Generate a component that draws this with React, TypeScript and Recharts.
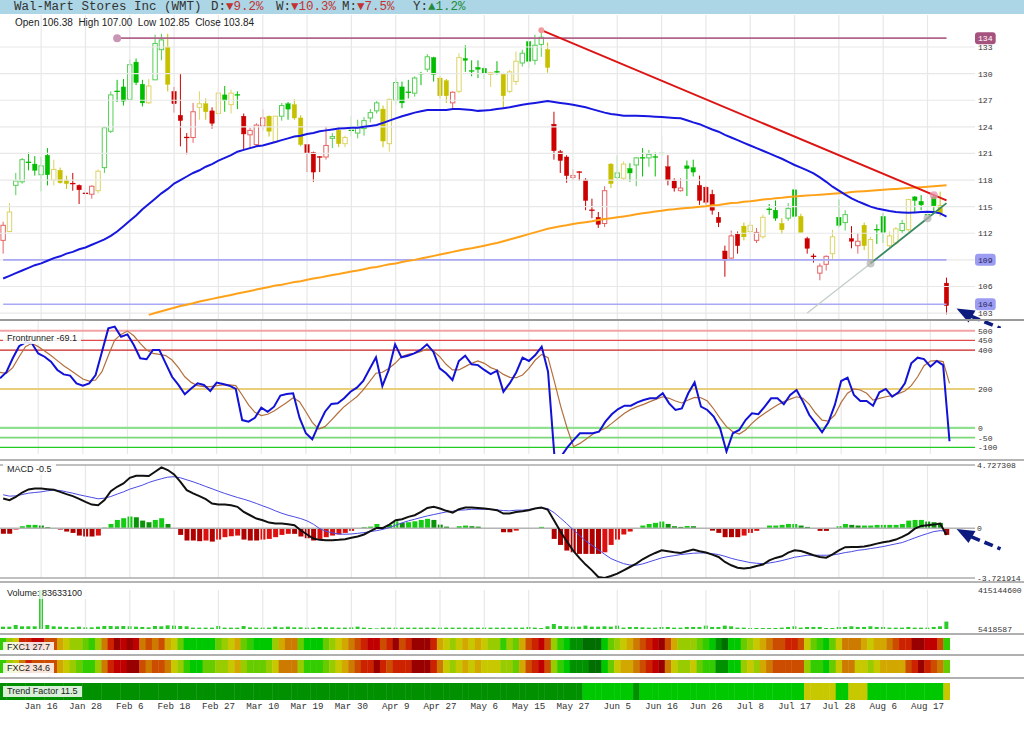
import React from 'react';
import {
  ComposedChart, Bar, Line, XAxis, YAxis, ReferenceLine, ReferenceDot, Cell
} from 'recharts';

// ---------- price bars ----------
const opens = [
  111.2, 112.2, 117.4, 117.8, 120.0, 119.8, 118.6, 120.8, 118.0, 119.1,
  118.0, 117.6, 117.4, 116.5, 116.4, 116.8, 119.4, 123.5, 127.9, 128.5,
  127.1, 131.3, 128.8, 126.7, 129.3, 132.7, 133.0, 128.0, 125.3, 122.8,
  122.8, 126.2, 126.6, 125.8, 125.5, 127.6, 126.5, 127.6, 125.2, 123.1,
  122.0, 124.1, 125.2, 122.3, 125.2, 126.6, 126.5, 125.0, 122.0, 121.1,
  120.6, 120.6, 122.7, 123.6, 122.1, 123.6, 123.3, 123.8, 125.0, 125.8,
  126.0, 122.1, 127.0, 128.5, 127.9, 127.8, 130.0, 130.5, 131.8, 129.5,
  129.2, 126.7, 128.0, 131.7, 130.3, 130.7, 130.6, 129.9, 130.2, 130.0,
  128.0, 129.1, 131.2, 133.6, 131.5, 133.3, 132.7, 124.3, 121.2, 120.6,
  118.3, 118.9, 118.0, 114.6, 113.8, 113.1, 119.8, 118.3, 118.2, 119.3,
  119.7, 120.5, 120.5, 120.6, 121.0, 119.5, 117.9, 116.8, 119.6, 119.4,
  117.4, 117.2, 116.4, 113.8, 110.0, 109.2, 111.9, 112.8, 112.2, 111.2,
  111.6, 114.7, 114.6, 113.1, 113.7, 116.9, 113.9, 111.4, 109.4, 107.5,
  108.5, 109.7, 113.8, 113.2, 111.4, 110.6, 112.9, 108.8, 112.4, 113.9,
  110.6, 110.9, 112.3, 112.4, 116.1, 115.6, 114.0, 116.1, 115.1, 106.38,
];
const highs = [
  113.3, 115.4, 118.8, 120.5, 121.1, 120.7, 120.6, 121.6, 120.3, 119.4,
  118.5, 118.8, 117.5, 117.3, 117.4, 119.2, 124.0, 128.0, 129.3, 129.4,
  131.6, 131.7, 129.3, 129.4, 134.4, 134.5, 134.5, 128.5, 130.0, 123.3,
  126.7, 128.0, 127.2, 126.2, 128.5, 128.6, 128.2, 128.0, 125.5, 123.9,
  124.4, 126.0, 125.3, 125.2, 126.7, 126.8, 127.1, 125.3, 122.0, 121.2,
  120.7, 124.0, 123.3, 124.0, 123.0, 125.2, 124.8, 125.1, 126.0, 126.9,
  126.4, 127.2, 129.5, 129.1, 129.3, 129.7, 130.2, 132.2, 131.9, 129.7,
  129.4, 128.0, 132.3, 133.2, 131.5, 131.5, 130.8, 130.2, 131.4, 130.1,
  130.4, 132.5, 132.7, 133.6, 134.4, 134.9, 133.5, 125.7, 121.4, 120.8,
  119.2, 119.0, 118.2, 115.9, 114.4, 117.3, 119.9, 120.8, 120.1, 119.9,
  120.6, 121.6, 121.4, 121.1, 122.9, 120.8, 118.2, 118.2, 120.2, 120.3,
  118.5, 117.3, 116.9, 114.4, 110.6, 112.3, 112.2, 113.2, 113.4, 112.6,
  114.1, 115.3, 115.7, 113.7, 115.4, 117.9, 114.2, 111.6, 109.7, 108.6,
  109.5, 112.4, 115.8, 114.6, 112.8, 112.0, 113.2, 111.6, 113.0, 114.3,
  112.2, 112.7, 113.5, 115.9, 116.2, 116.3, 115.0, 116.4, 116.7, 107.00,
];
const lows = [
  109.7, 112.1, 116.3, 117.6, 119.1, 118.5, 116.7, 117.4, 117.4, 117.6,
  117.0, 116.8, 115.3, 115.8, 115.9, 116.5, 118.8, 123.3, 126.8, 126.4,
  127.0, 128.7, 126.3, 126.6, 129.3, 131.5, 128.0, 125.6, 121.8, 120.9,
  122.2, 124.8, 124.8, 123.8, 125.1, 125.7, 125.5, 126.0, 121.5, 121.6,
  121.8, 123.6, 122.9, 122.2, 124.7, 124.8, 124.8, 121.8, 118.9, 117.8,
  118.9, 120.3, 121.6, 121.7, 121.7, 122.9, 122.7, 123.0, 124.5, 125.5,
  121.7, 121.2, 126.5, 126.1, 127.2, 127.4, 128.7, 130.2, 129.1, 127.2,
  126.7, 125.9, 127.8, 130.2, 129.7, 129.5, 129.4, 128.5, 129.9, 126.2,
  127.8, 128.7, 130.8, 130.6, 131.0, 131.9, 130.1, 120.3, 118.8, 117.7,
  118.0, 117.9, 114.6, 113.7, 112.6, 112.7, 117.1, 118.0, 118.0, 117.8,
  117.3, 118.4, 119.5, 118.4, 120.5, 117.4, 116.7, 116.7, 116.2, 118.4,
  115.2, 115.2, 114.1, 112.7, 107.1, 109.1, 109.7, 111.2, 111.9, 110.9,
  111.4, 114.1, 113.4, 111.9, 113.4, 113.4, 112.1, 109.7, 108.7, 106.7,
  107.8, 109.1, 112.7, 112.3, 110.3, 109.7, 110.1, 108.6, 110.8, 110.9,
  110.4, 110.7, 112.0, 112.2, 114.4, 114.6, 113.3, 114.2, 113.9, 102.85,
];
const closes = [
  112.9, 114.4, 117.9, 120.3, 120.0, 119.1, 119.6, 118.6, 119.2, 117.7,
  117.6, 117.6, 116.9, 116.5, 117.3, 119.0, 123.9, 127.6, 128.0, 126.9,
  131.0, 129.0, 126.7, 128.6, 133.4, 133.8, 128.8, 126.6, 124.7, 122.8,
  125.7, 126.6, 125.7, 124.4, 127.8, 127.0, 127.8, 127.6, 123.2, 123.6,
  124.2, 125.0, 123.5, 125.2, 126.4, 126.0, 125.0, 122.0, 121.0, 118.9,
  120.6, 121.9, 122.9, 122.1, 122.8, 123.6, 123.9, 124.7, 125.6, 126.7,
  122.4, 127.1, 129.0, 126.7, 127.9, 129.5, 130.0, 131.9, 129.9, 127.5,
  127.5, 127.9, 131.8, 131.5, 130.3, 130.5, 130.0, 130.1, 130.2, 127.5,
  130.2, 131.4, 132.3, 131.4, 133.2, 134.1, 130.7, 121.3, 120.2, 118.5,
  118.5, 118.9, 115.7, 114.6, 113.0, 116.8, 117.6, 118.8, 119.8, 118.8,
  120.5, 120.5, 120.9, 120.6, 121.0, 118.0, 117.1, 117.1, 119.3, 118.9,
  115.7, 115.5, 114.6, 113.2, 108.9, 111.7, 110.6, 111.6, 112.9, 112.1,
  113.8, 114.7, 113.7, 112.4, 114.8, 113.9, 112.1, 110.3, 109.4, 108.3,
  109.4, 111.6, 112.9, 114.1, 111.1, 111.1, 110.6, 111.3, 112.4, 112.1,
  111.7, 112.5, 113.1, 115.8, 115.7, 115.2, 114.1, 115.1, 114.2, 103.84,
];
// bar colouring state: 1 bullish (green), 0 neutral (yellow), -1 bearish (red)
const trendState = [
  -1, 0, 1, 1, 1, 1, 1, 1, 0, 0,
  0, -1, -1, -1, -1, 0, 1, 1, 1, 1,
  1, 1, 1, 0, 1, 1, 0, -1, -1, -1,
  -1, 0, 0, -1, 0, 1, 0, 1, -1, -1,
  -1, -1, 0, 0, 1, 1, 0, 0, -1, -1,
  -1, -1, 1, 0, 0, 1, 1, 1, 1, 1,
  0, 0, 1, 1, 1, 1, 1, 1, 1, 0,
  0, -1, 0, 1, 1, 1, 1, 0, 1, 0,
  0, 0, 1, 1, 1, 1, 0, -1, -1, -1,
  -1, -1, -1, -1, -1, -1, 0, 1, 0, 1,
  1, 1, 1, 1, 1, -1, -1, -1, 1, 1,
  -1, -1, -1, -1, -1, -1, -1, 0, 0, -1,
  0, 1, 1, 0, 1, 1, 0, -1, -1, -1,
  -1, 0, 1, 1, -1, -1, 0, 0, 1, 1,
  0, 0, 1, 0, 1, 1, 1, 1, 0, -1,
];

// ---------- moving averages ----------
const ma50 = [
  106.9, 107.2, 107.5, 107.8, 108.1, 108.4, 108.6, 108.9, 109.2, 109.4,
  109.7, 109.9, 110.2, 110.4, 110.7, 111.0, 111.3, 111.7, 112.2, 112.8,
  113.4, 114.0, 114.7, 115.3, 115.9, 116.5, 117.0, 117.6, 118.0, 118.4,
  118.8, 119.1, 119.5, 119.8, 120.2, 120.5, 120.8, 121.2, 121.4, 121.6,
  121.8, 121.9, 122.1, 122.3, 122.5, 122.7, 122.9, 123.0, 123.2, 123.3,
  123.5, 123.6, 123.7, 123.8, 123.85, 123.9, 123.9, 124.0, 124.1, 124.2,
  124.45, 124.7, 124.95, 125.2, 125.4, 125.6, 125.75, 125.9, 125.9, 125.9,
  125.9, 126.0, 126.0, 125.95, 125.9, 125.8, 125.85, 125.9, 126.0, 126.1,
  126.2, 126.35, 126.5, 126.6, 126.7, 126.8, 126.9, 126.8, 126.7, 126.6,
  126.5, 126.35, 126.2, 126.0, 125.8, 125.6, 125.45, 125.35, 125.26, 125.26,
  125.26, 125.23, 125.2, 125.15, 125.1, 125.05, 125.0, 124.96, 124.75, 124.5,
  124.3, 124.0, 123.7, 123.45, 123.1, 122.8, 122.5, 122.2, 121.9, 121.6,
  121.3, 121.0, 120.7, 120.4, 120.05, 119.7, 119.4, 119.1, 118.76, 118.3,
  117.8, 117.25, 116.8, 116.35, 115.93, 115.6, 115.3, 115.0, 114.8, 114.65,
  114.5, 114.4, 114.35, 114.3, 114.35, 114.4, 114.43, 114.4, 114.24, 113.87,
];
const ma200 = [
  null, null, null, null, null, null, null, null, null, null,
  null, null, null, null, null, null, null, null, null, null,
  null, null, null, 102.8, 103.0, 103.2, 103.4, 103.6, 103.8, 103.95,
  104.1, 104.3, 104.45, 104.6, 104.75, 104.9, 105.05, 105.2, 105.35, 105.5,
  105.65, 105.8, 105.95, 106.1, 106.2, 106.35, 106.5, 106.6, 106.75, 106.9,
  107.0, 107.15, 107.3, 107.4, 107.55, 107.7, 107.8, 107.95, 108.1, 108.2,
  108.35, 108.5, 108.6, 108.75, 108.9, 109.0, 109.15, 109.3, 109.45, 109.6,
  109.75, 109.9, 110.05, 110.2, 110.3, 110.45, 110.6, 110.75, 110.9, 111.1,
  111.3, 111.5, 111.7, 111.9, 112.1, 112.3, 112.5, 112.65, 112.8, 112.9,
  113.05, 113.15, 113.25, 113.35, 113.5, 113.6, 113.7, 113.8, 113.9, 114.0,
  114.15, 114.25, 114.35, 114.45, 114.55, 114.65, 114.7, 114.8, 114.85, 114.9,
  115.0, 115.05, 115.15, 115.2, 115.3, 115.4, 115.45, 115.55, 115.6, 115.7,
  115.8, 115.85, 115.95, 116.0, 116.1, 116.15, 116.2, 116.25, 116.3, 116.35,
  116.4, 116.45, 116.5, 116.55, 116.65, 116.7, 116.75, 116.8, 116.85, 116.9,
  116.95, 117.0, 117.05, 117.1, 117.15, 117.2, 117.25, 117.3, 117.35, 117.4,
];

// drawn trend lines (bar index, price)
const redTlIdx = [85, 149];
const redTlVal = [134.9, 115.7];
const greyTlIdx = [127, 137];
const greyTlVal = [103.0, 108.6];
const greenTlIdx = [137, 146, 149];
const greenTlVal = [108.6, 113.7, 115.4];

// ---------- Frontrunner oscillator ----------
const frontrunner = [
  255, 286, 358, 420, 440, 435, 383, 366, 341, 298,
  275, 269, 229, 217, 229, 272, 392, 512, 521, 469,
  481, 426, 358, 353, 401, 401, 332, 263, 221, 173,
  203, 229, 221, 190, 233, 226, 217, 200, 40, 32,
  52, 104, 83, 109, 166, 174, 178, 52, -28, -59,
  15, 83, 123, 126, 152, 186, 207, 241, 303, 363,
  215, 298, 430, 363, 371, 383, 401, 430, 392, 306,
  281, 246, 344, 371, 327, 323, 298, 277, 294, 186,
  230, 285, 361, 344, 375, 418, 289, -145, -150, -102,
  -63, -28, -28, -28, -20, 32, 70, 97, 114, 114,
  131, 143, 152, 152, 178, 126, 92, 100, 178, 234,
  109, 92, 58, -2, -122, -28, -11, 40, 75, 70,
  109, 152, 152, 121, 169, 195, 135, 66, 23, -23,
  28, 118, 241, 258, 169, 138, 138, 114, 183, 200,
  160, 183, 229, 332, 361, 354, 315, 344, 323, -69.1,
];
const frontSignal = [
  286, 281, 310, 366, 418, 435, 418, 396, 372, 346,
  320, 298, 275, 251, 241, 246, 289, 372, 452, 481,
  498, 474, 435, 401, 383, 378, 372, 349, 310, 263,
  234, 217, 212, 212, 217, 221, 221, 217, 169, 118,
  80, 63, 70, 87, 109, 131, 155, 135, 83, 28,
  -6, 6, 40, 75, 109, 135, 160, 195, 238, 281,
  286, 306, 332, 366, 378, 383, 392, 406, 396, 366,
  327, 298, 298, 315, 332, 344, 332, 310, 298, 275,
  260, 258, 272, 306, 349, 378, 361, 238, 109, -2,
  -97, -80, -57, -33, -16, -2, 23, 49, 75, 95,
  109, 121, 135, 148, 160, 152, 138, 128, 143, 157,
  155, 138, 97, 49, 6, -20, -32, -11, 23, 52,
  75, 97, 118, 135, 148, 160, 152, 121, 75, 40,
  35, 66, 131, 178, 200, 195, 178, 143, 152, 160,
  166, 176, 190, 217, 263, 320, 344, 346, 341, 229,
];
const frontLevels = [500, 450, 400, 200, 0, -50, -100];

// ---------- MACD ----------
const macdLine = [
  2.22, 2.10, 2.35, 2.67, 2.90, 2.97, 2.97, 2.92, 2.87, 2.72,
  2.55, 2.40, 2.20, 1.97, 1.77, 1.72, 2.10, 2.77, 3.10, 3.35,
  3.77, 3.92, 3.92, 3.90, 4.22, 4.55, 4.35, 4.02, 3.47, 2.85,
  2.60, 2.40, 2.17, 1.85, 1.77, 1.77, 1.72, 1.60, 1.22, 0.97,
  0.72, 0.60, 0.42, 0.35, 0.35, 0.30, 0.22, -0.15, -0.47, -0.77,
  -0.87, -0.90, -0.90, -0.87, -0.82, -0.72, -0.62, -0.47, -0.22, 0.02,
  0.02, 0.27, 0.60, 0.67, 0.85, 0.97, 1.22, 1.52, 1.60, 1.47,
  1.30, 1.17, 1.42, 1.55, 1.55, 1.52, 1.47, 1.42, 1.35, 1.10,
  1.10, 1.22, 1.27, 1.35, 1.47, 1.55, 1.40, 0.60, -0.22, -0.97,
  -1.65, -2.22, -2.72, -3.15, -3.65, -3.72, -3.57, -3.40, -3.15, -2.90,
  -2.65, -2.32, -2.07, -1.85, -1.65, -1.72, -1.80, -1.85, -1.72, -1.60,
  -1.72, -1.82, -1.97, -2.15, -2.52, -2.77, -2.95, -3.02, -2.95, -2.82,
  -2.72, -2.40, -2.22, -2.10, -1.82, -1.65, -1.70, -1.85, -2.02, -2.15,
  -2.20, -1.95, -1.65, -1.42, -1.40, -1.40, -1.37, -1.27, -1.15, -1.05,
  -0.97, -0.85, -0.65, -0.40, -0.03, 0.17, 0.22, 0.27, 0.35, -0.5,
];
const macdSignal = [
  2.50, 2.40, 2.42, 2.52, 2.62, 2.67, 2.72, 2.80, 2.85, 2.82,
  2.72, 2.62, 2.50, 2.40, 2.30, 2.20, 2.25, 2.37, 2.55, 2.72,
  2.92, 3.07, 3.22, 3.42, 3.57, 3.70, 3.82, 3.85, 3.77, 3.62,
  3.47, 3.30, 3.12, 2.95, 2.77, 2.60, 2.45, 2.30, 2.17, 2.02,
  1.85, 1.67, 1.50, 1.30, 1.12, 0.97, 0.85, 0.72, 0.55, 0.30,
  -0.03, -0.23, -0.35, -0.43, -0.45, -0.43, -0.38, -0.33, -0.25, -0.18,
  -0.08, 0.05, 0.22, 0.40, 0.55, 0.67, 0.80, 0.92, 1.02, 1.12,
  1.22, 1.27, 1.35, 1.37, 1.42, 1.42, 1.42, 1.40, 1.37, 1.32,
  1.30, 1.35, 1.35, 1.40, 1.47, 1.52, 1.47, 1.17, 0.77, 0.35,
  -0.10, -0.52, -0.95, -1.27, -1.60, -1.95, -2.27, -2.47, -2.65, -2.75,
  -2.77, -2.67, -2.52, -2.37, -2.22, -2.12, -2.05, -1.97, -1.92, -1.87,
  -1.85, -1.85, -1.90, -1.97, -2.10, -2.25, -2.37, -2.47, -2.57, -2.62,
  -2.65, -2.60, -2.52, -2.42, -2.30, -2.17, -2.10, -2.02, -2.02, -2.02,
  -2.02, -2.00, -1.92, -1.82, -1.75, -1.65, -1.60, -1.52, -1.45, -1.37,
  -1.27, -1.17, -1.07, -0.90, -0.72, -0.55, -0.40, -0.25, -0.18, -0.22,
];
const macdHist = [
  -0.42, -0.42, -0.10, 0.15, 0.25, 0.25, 0.20, 0.08, 0.02, -0.10,
  -0.25, -0.35, -0.55, -0.62, -0.62, -0.55, 0.05, 0.32, 0.62, 0.75,
  0.87, 0.82, 0.57, 0.45, 0.62, 0.75, 0.32, -0.02, -0.50, -0.92,
  -0.92, -0.97, -0.92, -1.00, -0.85, -0.67, -0.60, -0.55, -0.85, -0.92,
  -0.92, -0.85, -0.80, -0.67, -0.50, -0.42, -0.42, -0.62, -0.75, -0.92,
  -0.80, -0.67, -0.55, -0.47, -0.35, -0.20, -0.02, 0.08, 0.12, 0.32,
  0.05, 0.25, 0.52, 0.40, 0.45, 0.52, 0.62, 0.70, 0.62, 0.27,
  0.12, 0.02, 0.15, 0.20, 0.15, 0.12, 0.02, 0.02, -0.02, -0.30,
  -0.30, -0.18, 0.02, 0.02, 0.02, 0.10, 0.02, -0.80, -1.25, -1.67,
  -1.80, -1.92, -1.92, -1.92, -1.92, -1.80, -1.25, -0.85, -0.47, -0.25,
  0.02, 0.20, 0.32, 0.40, 0.50, 0.32, 0.15, 0.10, 0.17, 0.15,
  0.02, -0.05, -0.18, -0.35, -0.67, -0.67, -0.67, -0.55, -0.35, -0.20,
  0.02, 0.20, 0.20, 0.25, 0.32, 0.32, 0.20, 0.10, 0.02, -0.20,
  -0.20, 0.02, 0.15, 0.32, 0.25, 0.20, 0.20, 0.20, 0.25, 0.25,
  0.25, 0.25, 0.32, 0.57, 0.62, 0.62, 0.50, 0.45, 0.40, -0.50,
];
const macdMax = 4.727308;
const macdMin = -3.721914;

// ---------- volume ----------
const volumes = [
  30e6, 30e6, 48e6, 34e6, 34e6, 34e6, 415144600, 48e6, 34e6, 30e6,
  27e6, 23e6, 30e6, 23e6, 23e6, 30e6, 37e6, 37e6, 34e6, 37e6,
  34e6, 30e6, 27e6, 23e6, 37e6, 34e6, 44e6, 41e6, 37e6, 34e6,
  20e6, 20e6, 20e6, 20e6, 37e6, 20e6, 20e6, 20e6, 37e6, 23e6,
  20e6, 20e6, 20e6, 30e6, 23e6, 30e6, 23e6, 23e6, 20e6, 20e6,
  27e6, 23e6, 23e6, 20e6, 20e6, 23e6, 30e6, 20e6, 16e6, 12e6,
  20e6, 20e6, 20e6, 20e6, 20e6, 20e6, 20e6, 20e6, 20e6, 20e6,
  20e6, 20e6, 20e6, 20e6, 20e6, 20e6, 20e6, 20e6, 20e6, 20e6,
  20e6, 20e6, 20e6, 27e6, 20e6, 16e6, 34e6, 58e6, 37e6, 34e6,
  30e6, 30e6, 41e6, 30e6, 30e6, 34e6, 30e6, 41e6, 20e6, 27e6,
  27e6, 23e6, 20e6, 20e6, 27e6, 27e6, 20e6, 20e6, 27e6, 27e6,
  27e6, 41e6, 27e6, 27e6, 41e6, 34e6, 20e6, 20e6, 16e6, 16e6,
  16e6, 16e6, 16e6, 20e6, 27e6, 34e6, 20e6, 27e6, 27e6, 27e6,
  16e6, 16e6, 27e6, 27e6, 34e6, 27e6, 27e6, 34e6, 27e6, 27e6,
  20e6, 20e6, 20e6, 27e6, 20e6, 20e6, 20e6, 27e6, 34e6, 83633100,
];
const volMin = 5418587;
const volMax = 415144600;

// ---------- heat strips (0 = strongest green ... 12 = deepest red) ----------
const fxc1 = [
  3, 5, 6, 10, 10, 11, 11, 9, 9, 7,
  6, 5, 5, 4, 3, 5, 8, 10, 12, 11,
  12, 11, 8, 9, 8, 9, 7, 6, 4, 2,
  2, 2, 2, 2, 4, 5, 6, 7, 4, 3,
  2, 2, 2, 5, 7, 8, 8, 4, 2, 2,
  2, 4, 5, 6, 7, 8, 9, 10, 11, 11,
  9, 10, 12, 9, 10, 12, 12, 12, 10, 7,
  6, 5, 6, 7, 6, 7, 6, 5, 5, 3,
  5, 4, 7, 9, 10, 11, 9, 5, 3, 2,
  1, 1, 0, 0, 0, 2, 4, 5, 6, 7,
  8, 9, 10, 11, 12, 9, 7, 5, 5, 5,
  4, 3, 2, 1, 0, 2, 2, 4, 5, 6,
  7, 8, 9, 9, 10, 10, 9, 6, 4, 3,
  2, 4, 6, 8, 8, 8, 7, 6, 7, 7,
  8, 9, 10, 10, 12, 12, 11, 11, 9, 3,
];
const fxc2 = [
  3, 5, 6, 8, 10, 9, 9, 9, 9, 7,
  6, 5, 4, 3, 3, 5, 8, 10, 11, 11,
  12, 12, 9, 8, 9, 9, 8, 6, 5, 3,
  2, 2, 4, 4, 5, 5, 6, 7, 5, 4,
  4, 4, 5, 6, 8, 8, 8, 5, 3, 3,
  3, 4, 5, 6, 7, 8, 9, 10, 10, 12,
  10, 9, 10, 10, 10, 12, 12, 12, 10, 8,
  6, 5, 6, 7, 6, 7, 6, 6, 6, 5,
  5, 4, 7, 9, 10, 11, 9, 5, 3, 2,
  1, 1, 1, 0, 0, 2, 4, 6, 7, 7,
  8, 9, 10, 11, 12, 8, 6, 5, 5, 6,
  4, 3, 3, 1, 1, 2, 2, 5, 6, 5,
  7, 8, 9, 9, 9, 9, 9, 5, 3, 3,
  2, 4, 6, 8, 8, 6, 6, 5, 6, 7,
  7, 7, 7, 9, 10, 12, 10, 9, 8, 4,
];
const trendFactor = [
  1, 1, 1, 1, 1, 1, 1, 1, 1, 1,
  1, 1, 1, 1, 1, 1, 1, 1, 1, 1,
  1, 1, 1, 1, 1, 1, 1, 1, 1, 1,
  1, 1, 1, 1, 1, 1, 1, 1, 1, 1,
  1, 1, 1, 1, 1, 1, 1, 1, 1, 1,
  1, 1, 1, 1, 1, 1, 1, 1, 1, 1,
  1, 1, 1, 1, 1, 1, 1, 1, 1, 1,
  1, 1, 1, 1, 1, 1, 1, 1, 1, 1,
  1, 1, 1, 1, 1, 1, 1, 1, 1, 1,
  1, 1, 2, 2, 2, 2, 2, 2, 2, 2,
  1, 2, 2, 2, 2, 2, 2, 2, 2, 2,
  2, 2, 2, 2, 2, 2, 2, 2, 2, 2,
  2, 2, 2, 2, 2, 2, 2, 6, 6, 6,
  6, 6, 2, 2, 6, 6, 6, 2, 2, 2,
  2, 2, 2, 2, 2, 2, 2, 2, 2, 6,
];

// ---------- axes ----------
const dateLabels = ['Jan 16', 'Jan 28', 'Feb 6', 'Feb 18', 'Feb 27', 'Mar 10', 'Mar 19', 'Mar 30', 'Apr 9', 'Apr 27',
  'May 6', 'May 15', 'May 27', 'Jun 5', 'Jun 16', 'Jun 26', 'Jul 8', 'Jul 17', 'Jul 28', 'Aug 6', 'Aug 17'];
const dateIdx = [6, 13, 20, 27, 34, 41, 48, 55, 62, 69, 76, 83, 90, 97, 104, 111, 118, 125, 132, 139, 146];
const priceGrid = [103, 106, 109, 112, 115, 118, 121, 124, 127, 130, 133];
const priceLabels = [103, 106, 112, 115, 118, 121, 124, 127, 130, 133, 104, 109, 134];

const SLOTS = 154; // 150 bars + empty room before the right-hand axis
const W = 1024;
const AXIS_W = 49;
const PAD = 8;

const HEAT = ['#006e00', '#009000', '#00c800', '#33cc00', '#66cc00', '#99cc00', '#c8c800',
  '#d2a800', '#cc7a00', '#cc4c00', '#cc2200', '#c00000', '#990000'];

const pick = (idx: number[], vals: number[], i: number) => {
  const k = idx.indexOf(i);
  return k < 0 ? null : vals[k];
};

const rows = Array.from({ length: SLOTS }, (_, i) => {
  const has = i < opens.length;
  return {
    i,
    range: has ? [lows[i], highs[i]] : null,
    open: opens[i], high: highs[i], low: lows[i], close: closes[i], state: trendState[i],
    ma50: has ? ma50[i] : null,
    ma200: has ? ma200[i] : null,
    redTl: pick(redTlIdx, redTlVal, i),
    greyTl: pick(greyTlIdx, greyTlVal, i),
    greenTl: pick(greenTlIdx, greenTlVal, i),
    fr: has ? frontrunner[i] : null,
    frSig: has ? frontSignal[i] : null,
    macd: has ? macdLine[i] : null,
    sig: has ? macdSignal[i] : null,
    hist: has ? macdHist[i] : null,
    vol: has ? volumes[i] : null,
    f1: fxc1[i], f2: fxc2[i], tf: trendFactor[i],
    one: has ? 1 : null,
  };
});

const histColor = (i: number) => {
  const v = macdHist[i];
  const prev = i > 0 ? macdHist[i - 1] : v;
  if (v >= 0) return v >= prev ? '#14cc14' : '#0b920b';
  return v <= prev ? '#b00000' : '#dd1010';
};

// ---------- shapes ----------
const CANDLE: Record<string, { solid: string; light: string }> = {
  '1': { solid: '#00bd00', light: '#55cf55' },
  '0': { solid: '#c6c000', light: '#dcd466' },
  '-1': { solid: '#cc0000', light: '#e46464' },
};

const Candle = (props: any) => {
  const { x, y, width, height, payload } = props;
  if (!payload || payload.range == null) return <g />;
  const { open, close, high, low, state } = payload;
  const top = Math.min(y, y + height);
  const h = Math.abs(height);
  const py = (p: number) => (high === low ? top : top + ((high - p) / (high - low)) * h);
  const cx = x + width / 2;
  const flat = Math.abs(close - open) < 0.12;
  const up = close > open;
  const pal = CANDLE[String(state)];
  const col = flat ? pal.solid : up ? pal.light : pal.solid;
  const bw = 4.4;
  const yt = py(Math.max(open, close));
  const yb = py(Math.min(open, close));
  return (
    <g>
      <line x1={cx} x2={cx} y1={top} y2={top + h} stroke={col} strokeWidth={1} />
      {flat ? (
        <line x1={cx - bw / 2 - 0.5} x2={cx + bw / 2 + 0.5} y1={yt} y2={yt} stroke={col} strokeWidth={1.3} />
      ) : (
        <rect x={cx - bw / 2} y={yt} width={bw} height={Math.max(1, yb - yt)}
          fill={up ? '#ffffff' : col} stroke={col} strokeWidth={up ? 1 : 0.4} />
      )}
    </g>
  );
};

const heatShape = (key: string) => (props: any) => {
  const { x, y, width, height, payload } = props;
  if (!payload || payload[key] == null) return <g />;
  return <rect x={x} y={y} width={width + 0.7} height={height} fill={HEAT[payload[key]]} />;
};

const Arrow = (props: any) => {
  const { cx, cy } = props;
  const c = '#0d1b7e';
  return (
    <g>
      <line x1={cx + 25} y1={cy + 2} x2={cx + 54} y2={cy + 14} stroke={c} strokeWidth={3.6} strokeDasharray="9 5" />
      <polygon points={`${cx + 10},${cy - 6} ${cx + 29},${cy - 4} ${cx + 22},${cy + 8}`} fill={c} />
    </g>
  );
};

const monoFont = '"Liberation Mono", "DejaVu Sans Mono", monospace';
const sansFont = '"Liberation Sans", Arial, sans-serif';

const makeTick = (fmt: (v: number) => string, boxes: Record<string, { bg: string; fg: string }> = {}) =>
  (props: any) => {
    const { x, y, payload } = props;
    const label = fmt(payload.value);
    const box = boxes[String(payload.value)];
    return (
      <g>
        {box && <rect x={x - 3} y={y - 6} width={label.length * 4.9 + 6} height={12} rx={3} fill={box.bg} />}
        <text x={x} y={y + 3} fill={box ? box.fg : '#333'} fontFamily={monoFont} fontSize={8.1}>{label}</text>
      </g>
    );
  };

const PriceTick = makeTick((v) => String(v), {
  '134': { bg: '#a6527e', fg: '#ffffff' },
  '109': { bg: '#9c9cf2', fg: '#262660' },
  '104': { bg: '#9c9cf2', fg: '#262660' },
});
const PlainTick = makeTick((v) => String(v));

const DateTick = (props: any) => {
  const { x, y, payload } = props;
  const k = dateIdx.indexOf(payload.value);
  if (k < 0) return <g />;
  return (
    <text x={x} y={y + 1} textAnchor="middle" fill="#333" fontFamily={monoFont} fontSize={9.2}>{dateLabels[k]}</text>
  );
};

const vGrid = (prefix: string) =>
  dateIdx.map((i) => <ReferenceLine key={prefix + i} x={i} stroke="#e8e8e8" strokeWidth={1.2} />);

const panelLabel = (left: number, top: number, text: string, bg = 'rgba(255,255,255,0.88)') => (
  <div style={{
    position: 'absolute', left, top, padding: '0 4px', background: bg, fontFamily: sansFont,
    fontSize: 9, lineHeight: '11px', color: '#222', whiteSpace: 'nowrap',
  }}>{text}</div>
);

const sep = (top: number, h = 2, color = '#ababab') => (
  <div style={{ position: 'absolute', left: 0, top, width: W, height: h, background: color }} />
);

const last = opens.length - 1;

export default function App() {
  const chartMargin = { top: PAD, right: 0, bottom: PAD, left: 0 };
  return (
    <div style={{ position: 'absolute', left: 0, top: 0, width: W, height: 735, background: '#fff', overflow: 'hidden' }}>
      {/* title bar */}
      <div style={{ position: 'absolute', left: 0, top: 0, width: W, height: 14, background: '#acd6e5' }}>
        {[
          { x: 14, t: 'Wal-Mart Stores Inc (WMT)', v: '', c: '' },
          { x: 211, t: 'D:', v: '\u25BC9.2%', c: '#c23232' },
          { x: 276, t: 'W:', v: '\u25BC10.3%', c: '#c23232' },
          { x: 342, t: 'M:', v: '\u25BC7.5%', c: '#c23232' },
          { x: 413, t: 'Y:', v: '\u25B21.2%', c: '#238a3a' },
        ].map((s) => (
          <span key={s.x} style={{
            position: 'absolute', left: s.x, top: 0, fontFamily: monoFont, fontSize: 12.5, lineHeight: '14px',
            color: '#333', whiteSpace: 'pre',
          }}>{s.t}<span style={{ color: s.c }}>{s.v}</span></span>
        ))}
      </div>

      {/* price panel */}
      <div style={{ position: 'absolute', left: 0, top: 15 - PAD }}>
        <ComposedChart width={W} height={305 + 2 * PAD} data={rows} margin={chartMargin}>
          <XAxis dataKey="i" type="category" hide />
          <YAxis orientation="right" width={AXIS_W} domain={[102.22, 136.61]} allowDataOverflow type="number"
            ticks={priceLabels} interval={0} tick={PriceTick} tickSize={0} tickMargin={3}
            axisLine={false} tickLine={false} />
          {priceGrid.map((p) => <ReferenceLine key={'hg' + p} y={p} stroke="#e8e8e8" strokeWidth={1.2} />)}
          {vGrid('pv')}
          <ReferenceLine segment={[{ x: 0, y: 109 }, { x: last, y: 109 }]} stroke="#a9a9f5" strokeWidth={1.6} />
          <ReferenceLine segment={[{ x: 0, y: 104 }, { x: last, y: 104 }]} stroke="#a9a9f5" strokeWidth={1.6} />
          <ReferenceLine segment={[{ x: 18, y: 134 }, { x: last, y: 134 }]} stroke="#b0648a" strokeWidth={1.6} />
          <Line dataKey="ma200" stroke="#ffa219" strokeWidth={2} dot={false} isAnimationActive={false} />
          <Line dataKey="ma50" stroke="#1717e0" strokeWidth={2} dot={false} isAnimationActive={false} />
          <Line dataKey="redTl" stroke="#dc1414" strokeWidth={2} dot={false} connectNulls isAnimationActive={false} />
          <Line dataKey="greyTl" stroke="#c2cec6" strokeWidth={1.3} dot={false} connectNulls isAnimationActive={false} />
          <Line dataKey="greenTl" stroke="#3a8a62" strokeWidth={1.8} dot={false} connectNulls isAnimationActive={false} />
          <Bar dataKey="range" shape={Candle} isAnimationActive={false} />
          <ReferenceDot x={18} y={134} r={4} fill="#c896b4" stroke="none" />
          <ReferenceDot x={85} y={134.9} r={3} fill="#f29a9a" stroke="none" />
          <ReferenceDot x={147} y={116.3} r={4} fill="rgba(232,150,172,0.75)" stroke="none" />
          <ReferenceDot x={137} y={108.6} r={4} fill="rgba(176,176,176,0.7)" stroke="none" />
          <ReferenceDot x={146} y={113.7} r={4} fill="rgba(176,176,176,0.7)" stroke="none" />
          <ReferenceDot x={last} y={lows[last]} r={0} shape={Arrow} />
        </ComposedChart>
      </div>
      <div style={{ position: 'absolute', left: 15, top: 17, fontFamily: sansFont, fontSize: 10, color: '#222', whiteSpace: 'pre' }}>
        {`Open ${opens[last].toFixed(2)}  High ${highs[last].toFixed(2)}  Low ${lows[last].toFixed(2)}  Close ${closes[last].toFixed(2)}`}
      </div>
      {sep(319, 2, '#9a9a9a')}

      {/* Frontrunner panel */}
      <div style={{ position: 'absolute', left: 0, top: 321 - PAD }}>
        <ComposedChart width={W} height={133 + 2 * PAD} data={rows} margin={chartMargin}>
          <XAxis dataKey="i" type="category" hide />
          <YAxis orientation="right" width={AXIS_W} domain={[-134.6, 549.9]} allowDataOverflow type="number"
            ticks={frontLevels} interval={0} tick={PlainTick} tickSize={0} tickMargin={3}
            axisLine={false} tickLine={false} />
          {vGrid('fv')}
          <ReferenceLine y={500} stroke="#f3a3a3" strokeWidth={2} />
          <ReferenceLine y={450} stroke="#e24a4a" strokeWidth={1.2} />
          <ReferenceLine y={400} stroke="#cc2020" strokeWidth={1.2} />
          <ReferenceLine y={200} stroke="#e9cf7a" strokeWidth={2} />
          <ReferenceLine y={0} stroke="#8fe08f" strokeWidth={2.4} />
          <ReferenceLine y={-50} stroke="#7ad87a" strokeWidth={1.8} />
          <ReferenceLine y={-100} stroke="#22cc22" strokeWidth={1.2} />
          <Line dataKey="frSig" stroke="#b3703d" strokeWidth={1.2} dot={false} isAnimationActive={false} />
          <Line dataKey="fr" stroke="#1212d6" strokeWidth={2} dot={false} isAnimationActive={false} />
        </ComposedChart>
      </div>
      {panelLabel(3, 333, `Frontrunner ${frontrunner[last]}`)}
      {sep(459, 2, '#b4b4b4')}

      {/* MACD panel */}
      <div style={{ position: 'absolute', left: 0, top: 465 - PAD }}>
        <ComposedChart width={W} height={113 + 2 * PAD} data={rows} margin={chartMargin} barCategoryGap="14%">
          <XAxis dataKey="i" type="category" hide />
          <YAxis orientation="right" width={AXIS_W} domain={[macdMin, macdMax]} allowDataOverflow type="number"
            ticks={[macdMax, 0, macdMin]} interval={0} tick={PlainTick} tickSize={0} tickMargin={2}
            axisLine={false} tickLine={false} />
          {vGrid('mv')}
          <ReferenceLine y={macdMax} stroke="#ababab" strokeWidth={1.6} />
          <ReferenceLine y={macdMin} stroke="#ababab" strokeWidth={1.6} />
          <ReferenceLine y={0} stroke="#b4b4b4" strokeWidth={1.4} />
          <Bar dataKey="hist" isAnimationActive={false}>
            {rows.map((r) => <Cell key={'c' + r.i} fill={r.hist == null ? 'none' : histColor(r.i)} />)}
          </Bar>
          <Line dataKey="sig" stroke="#4a4ae6" strokeWidth={1} dot={false} isAnimationActive={false} />
          <Line dataKey="macd" stroke="#111111" strokeWidth={2} dot={false} isAnimationActive={false} />
          <ReferenceDot x={last} y={macdLine[last]} r={0} shape={Arrow} />
        </ComposedChart>
      </div>
      {panelLabel(3, 464, `MACD ${macdLine[last]}`)}
      {sep(581, 2, '#b4b4b4')}

      {/* volume panel */}
      <div style={{ position: 'absolute', left: 0, top: 590 - PAD }}>
        <ComposedChart width={W} height={39 + 2 * PAD} data={rows} margin={chartMargin} barCategoryGap="16%">
          <XAxis dataKey="i" type="category" hide />
          <YAxis orientation="right" width={AXIS_W} domain={[volMin, volMax]} allowDataOverflow type="number"
            ticks={[volMax, volMin]} interval={0} tick={PlainTick} tickSize={0} tickMargin={3}
            axisLine={false} tickLine={false} />
          {vGrid('vv')}
          <Bar dataKey="vol" fill="#2ccc2c" isAnimationActive={false} />
        </ComposedChart>
      </div>
      {panelLabel(3, 588, `Volume: ${volumes[last]}`, 'rgba(255,255,255,0.7)')}
      {sep(633, 2, '#b0b0b0')}

      {/* FXC1 */}
      <div style={{ position: 'absolute', left: 0, top: 638 }}>
        <ComposedChart width={W} height={12} data={rows} margin={{ top: 0, right: AXIS_W, bottom: 0, left: 0 }} barCategoryGap={0}>
          <XAxis dataKey="i" type="category" hide />
          <YAxis hide domain={[0, 1]} />
          <Bar dataKey="one" shape={heatShape('f1')} isAnimationActive={false} />
        </ComposedChart>
      </div>
      {panelLabel(3, 642, 'FXC1 27.7', 'rgba(255,255,255,0.85)')}
      {sep(654, 2, '#b0b0b0')}

      {/* FXC2 */}
      <div style={{ position: 'absolute', left: 0, top: 660 }}>
        <ComposedChart width={W} height={13} data={rows} margin={{ top: 0, right: AXIS_W, bottom: 0, left: 0 }} barCategoryGap={0}>
          <XAxis dataKey="i" type="category" hide />
          <YAxis hide domain={[0, 1]} />
          <Bar dataKey="one" shape={heatShape('f2')} isAnimationActive={false} />
        </ComposedChart>
      </div>
      {panelLabel(3, 663, 'FXC2 34.6', 'rgba(255,255,255,0.85)')}
      {sep(677, 2, '#b0b0b0')}

      {/* Trend Factor + date axis */}
      <div style={{ position: 'absolute', left: 0, top: 683 }}>
        <ComposedChart width={W} height={17 + 20} data={rows} margin={{ top: 0, right: AXIS_W, bottom: 0, left: 0 }} barCategoryGap={0}>
          <XAxis dataKey="i" type="category" interval={0} height={20} tick={DateTick} tickLine={false} axisLine={false} />
          <YAxis hide domain={[0, 1]} />
          <Bar dataKey="one" shape={heatShape('tf')} isAnimationActive={false} />
        </ComposedChart>
      </div>
      {panelLabel(3, 686, 'Trend Factor 11.5', '#d8efd8')}
    </div>
  );
}
